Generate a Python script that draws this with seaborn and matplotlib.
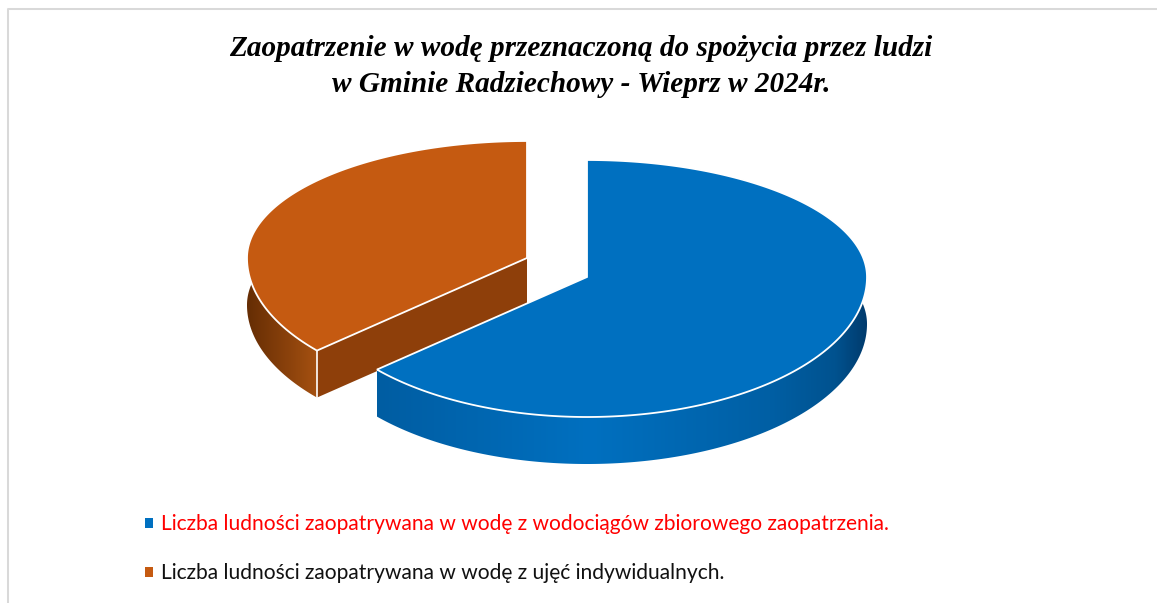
import numpy as np
import matplotlib
matplotlib.use("Agg")
import matplotlib.pyplot as plt
from matplotlib.transforms import Transform, Affine2D
from matplotlib.path import Path
from matplotlib.patches import Patch, Polygon
from matplotlib.lines import Line2D
import seaborn as sns

# ---- data (share of population, %) ----
categories = [
    "Liczba ludności zaopatrywana w wodę z wodociągów zbiorowego zaopatrzenia.",
    "Liczba ludności zaopatrywana w wodę z ujęć indywidualnych.",
]
values = [63.5, 36.5]
title = ("Zaopatrzenie w wodę przeznaczoną do spożycia przez ludzi\n"
         "w Gminie Radziechowy - Wieprz w 2024r.")

sns.set_theme(style="white")
plt.rcParams["font.family"] = ["Lato", "DejaVu Sans"]
colors = sns.color_palette(["#0070C0", "#C55A11"])
label_colors = ["#FF0000", "#111111"]

W, H = 1157, 603
fig = plt.figure(figsize=(W / 100, H / 100), dpi=100, facecolor="white")
ax = fig.add_axes([0, 0, 1, 1])


class PieProjection(Transform):
    """Tilted view of the flat unit pie into the pixel-like data space."""
    input_dims = output_dims = 2

    def __init__(self, cx, cy, rx=280.0, r_back=117.0, r_front=140.0):
        super().__init__()
        self.cx, self.cy, self.rx, self.r_back, self.r_front = cx, cy, rx, r_back, r_front

    def transform_non_affine(self, xy):
        xy = np.asarray(xy, float)
        ry = np.where(xy[:, 1] > 0, self.r_back, self.r_front)
        return np.column_stack([self.cx + self.rx * xy[:, 0],
                                self.cy - ry * xy[:, 1]])

    def transform_path_non_affine(self, path):
        # flatten the Bezier arcs first (at a large scale, so finely) so the
        # two half-ellipses stay smooth
        big = path.transformed(Affine2D().scale(2000.0))
        verts = big.to_polygons(closed_only=False)[0] / 2000.0
        return Path(self.transform_non_affine(verts), closed=True)


wedges, _ = ax.pie(values, colors=colors, startangle=90, counterclock=False,
                   wedgeprops=dict(edgecolor="white", linewidth=1.3))

DEPTH = 47
projections = [PieProjection(587, 277), PieProjection(527, 258)]
wall_stops = [
    ([377, 590, 770, 835, 867], ["#005DA2", "#0070C0", "#005FA4", "#00528F", "#003A6C"]),
    ([247, 318], ["#652D04", "#A65111"]),
]
top_z = [3.0, 1.2]
wall_z = [2.9, 1.0]

for wedge, proj, (sx, sc), zt, zw in zip(wedges, projections, wall_stops, top_z, wall_z):
    th = np.radians(np.linspace(wedge.theta1, wedge.theta2, 600))
    rim = proj.transform(np.column_stack([np.cos(th), np.sin(th)]))
    outline = np.vstack([rim, rim[::-1] + (0, DEPTH)])
    x0, x1 = rim[:, 0].min(), rim[:, 0].max()
    y0, y1 = rim[:, 1].min(), rim[:, 1].max() + DEPTH
    xs = np.linspace(x0, x1, 512)
    rgb = np.array([matplotlib.colors.to_rgb(c) for c in sc])
    grad = np.column_stack([np.interp(xs, sx, rgb[:, j]) for j in range(3)])[None, :, :]
    im = ax.imshow(grad, extent=(x0, x1, y1, y0), aspect="auto", zorder=zw,
                   interpolation="bilinear")
    clip = Polygon(outline, closed=True, transform=ax.transData, facecolor="none",
                   edgecolor="none")
    ax.add_patch(clip)
    im.set_clip_path(clip)
    wedge.set_transform(proj + ax.transData)
    wedge.set_zorder(zt)

# cut face and front corner of the detached slice
orange = wedges[1]
p = projections[1]
apex = p.transform(np.array([[0.0, 0.0]]))[0]
t = np.radians(orange.theta2)
corner = p.transform(np.array([[np.cos(t), np.sin(t)]]))[0]
ax.add_patch(Polygon([apex, corner, corner + (0, DEPTH), apex + (0, DEPTH)],
                     closed=True, facecolor="#8E3F0A", edgecolor="none", zorder=1.1))
ax.add_line(Line2D([corner[0], corner[0]], [corner[1], corner[1] + DEPTH],
                   color="white", lw=1.2, zorder=1.3))

ax.set_aspect("auto")
ax.set_xlim(0, W)
ax.set_ylim(H, 0)
ax.set_frame_on(False)
ax.set_xticks([])
ax.set_yticks([])

# chart border (top and left only are in the crop)
ax.add_line(Line2D([8.3, 8.3, W], [H, 9, 9], color="#D9D9D9", lw=1.45, zorder=0.5))

ax.set_title(title, x=581 / W, y=1 - 75 / H, va="center", ha="center",
             fontsize=21.05, fontweight="bold", fontstyle="italic",
             family="Liberation Serif", color="black", linespacing=1.42)

handles = [Patch(facecolor=c, edgecolor="none") for c in colors]
leg = ax.legend(handles, categories, loc="upper left", frameon=False,
                bbox_to_anchor=(138.8 / W, 1 - 508 / H), fontsize=15.08,
                labelcolor=label_colors, handlelength=0.38, handleheight=0.38,
                handletextpad=0.38, labelspacing=1.38, borderpad=0.3, borderaxespad=0)

fig.savefig("out.png", dpi=100, facecolor="white")
